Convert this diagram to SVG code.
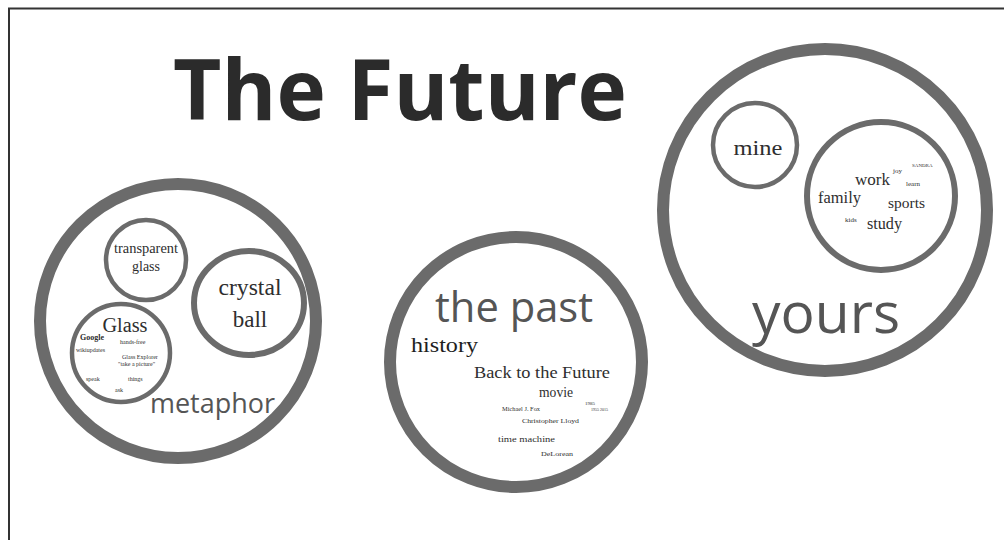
<svg xmlns="http://www.w3.org/2000/svg" width="1004" height="540" viewBox="0 0 1004 540">
<style>
.ring{fill:none;stroke:#6b6b6b}
.big{stroke-width:12}
.mid{stroke-width:6}
.sm{stroke-width:4.5}
.sans{font-family:"Open Sans","Noto Sans",sans-serif;fill:#555}
.ser{font-family:"Liberation Serif","DejaVu Serif",serif;fill:#2e2e2e}
.b{font-weight:bold}
</style>
<rect width="1004" height="540" fill="#ffffff"/>
<path d="M9,540 V8.5 H1004" fill="none" stroke="#333" stroke-width="2"/>
<g id="title">
<text class="sans b" x="173" y="120" font-size="84" style="fill:#2b2b2b" textLength="454" lengthAdjust="spacingAndGlyphs">The Future</text>
</g>
<g id="metaphor">
<ellipse class="ring big" cx="178" cy="321" rx="138" ry="137"/>
<text class="sans" x="150" y="413" font-size="27" textLength="125" lengthAdjust="spacingAndGlyphs">metaphor</text>
</g>
<g id="transparent-glass">
<circle class="ring sm" cx="146" cy="260" r="40"/>
<text class="ser" x="146" y="253" font-size="14" text-anchor="middle" textLength="64" lengthAdjust="spacingAndGlyphs">transparent</text>
<text class="ser" x="146" y="271" font-size="14" text-anchor="middle">glass</text>
</g>
<g id="crystal-ball">
<ellipse class="ring mid" cx="249" cy="303" rx="55" ry="52"/>
<text class="ser" x="250" y="295" font-size="23" text-anchor="middle" textLength="63" lengthAdjust="spacingAndGlyphs">crystal</text>
<text class="ser" x="250" y="327" font-size="23" text-anchor="middle">ball</text>
</g>
<g id="glass">
<circle class="ring sm" cx="121" cy="353" r="49"/>
<text class="ser" x="125" y="332" font-size="20" text-anchor="middle" textLength="45" lengthAdjust="spacingAndGlyphs">Glass</text>
<text class="ser b" x="80" y="340" font-size="8">Google</text>
<text class="ser" x="120" y="344" font-size="6">hands-free</text>
<text class="ser" x="76" y="352" font-size="6">wikiupdates</text>
<text class="ser" x="122" y="359" font-size="6">Glass Explorer</text>
<text class="ser" x="118" y="366" font-size="6">"take a picture"</text>
<text class="ser" x="86" y="381" font-size="6">speak</text>
<text class="ser" x="128" y="381" font-size="6">things</text>
<text class="ser" x="115" y="392" font-size="6">ask</text>
</g>
<g id="the-past">
<ellipse class="ring big" cx="516" cy="362" rx="126" ry="125"/>
<text class="sans" x="435" y="322" font-size="42" textLength="158" lengthAdjust="spacingAndGlyphs">the past</text>
<text class="ser" x="411" y="352" font-size="21" style="fill:#1e1e1e" textLength="67" lengthAdjust="spacingAndGlyphs">history</text>
<text class="ser" x="474" y="378" font-size="16" textLength="136" lengthAdjust="spacingAndGlyphs">Back to the Future</text>
<text class="ser" x="539" y="397" font-size="14" textLength="34" lengthAdjust="spacingAndGlyphs">movie</text>
<text class="ser" x="502" y="411" font-size="7" textLength="38" lengthAdjust="spacingAndGlyphs">Michael J. Fox</text>
<text class="ser" x="522" y="423" font-size="7" textLength="57" lengthAdjust="spacingAndGlyphs">Christopher Lloyd</text>
<text class="ser" x="585" y="405" font-size="5">1985</text>
<text class="ser" x="591" y="411" font-size="4">1955  2015</text>
<text class="ser" x="498" y="442" font-size="9" textLength="57" lengthAdjust="spacingAndGlyphs">time machine</text>
<text class="ser" x="541" y="456" font-size="7" textLength="32" lengthAdjust="spacingAndGlyphs">DeLorean</text>
</g>
<g id="yours">
<ellipse class="ring big" cx="825" cy="210" rx="162" ry="161"/>
<text class="sans" x="752" y="333" font-size="57" textLength="148" lengthAdjust="spacingAndGlyphs">yours</text>
</g>
<g id="mine">
<circle class="ring sm" cx="755" cy="145" r="42"/>
<text class="ser" x="758" y="155" font-size="20" text-anchor="middle" textLength="49" lengthAdjust="spacingAndGlyphs">mine</text>
</g>
<g id="life">
<circle class="ring mid" cx="881" cy="196" r="74"/>
<text class="ser" x="855" y="185" font-size="16" textLength="35" lengthAdjust="spacingAndGlyphs">work</text>
<text class="ser" x="893" y="173" font-size="7">joy</text>
<text class="ser" x="912" y="167" font-size="5">SANDRA</text>
<text class="ser" x="906" y="186" font-size="7">learn</text>
<text class="ser" x="818" y="203" font-size="16" textLength="43" lengthAdjust="spacingAndGlyphs">family</text>
<text class="ser" x="888" y="208" font-size="15" textLength="37" lengthAdjust="spacingAndGlyphs">sports</text>
<text class="ser" x="845" y="222" font-size="7">kids</text>
<text class="ser" x="867" y="229" font-size="16" textLength="35" lengthAdjust="spacingAndGlyphs">study</text>
</g>
<g id="connectors"></g>
</svg>
